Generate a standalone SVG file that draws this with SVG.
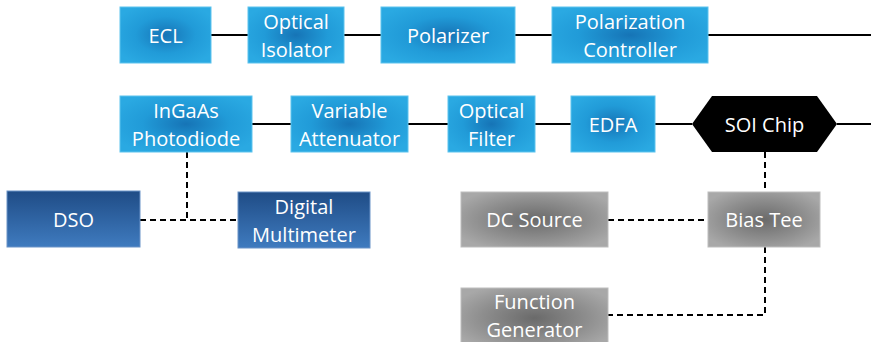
<svg xmlns="http://www.w3.org/2000/svg" width="871" height="342" viewBox="0 0 871 342">
<defs>
<radialGradient id="gBlue" cx="50%" cy="50%" r="60%">
<stop offset="0" stop-color="#1674b6"/>
<stop offset="0.55" stop-color="#219bd8"/>
<stop offset="1" stop-color="#2aa9e2"/>
</radialGradient>
<linearGradient id="gDark" x1="0" y1="0" x2="0" y2="1">
<stop offset="0" stop-color="#1f4c86"/>
<stop offset="1" stop-color="#3f7bbf"/>
</linearGradient>
<radialGradient id="gGray" cx="50%" cy="50%" r="60%">
<stop offset="0" stop-color="#6a6a6a"/>
<stop offset="0.6" stop-color="#8e8e8e"/>
<stop offset="1" stop-color="#a8a8a8"/>
</radialGradient>
<style>
.blue{fill:url(#gBlue);stroke:#5cc3ee;stroke-width:1}
.dark{fill:url(#gDark);stroke:#6b93c7;stroke-width:1}
.gray{fill:url(#gGray);stroke:#bdbdbd;stroke-width:1}
.chip{fill:#000}
text{font-family:"Open Sans","Noto Sans",sans-serif;font-size:20px;fill:#fff;text-anchor:middle}
.solid{stroke:#000;stroke-width:2;fill:none}
.dash{stroke:#000;stroke-width:2;fill:none;stroke-dasharray:6 4}
</style>
</defs>
<rect width="871" height="342" fill="#fff"/>
<g id="connectors">
<line class="solid" x1="211" y1="35" x2="248" y2="35"/>
<line class="solid" x1="344" y1="35" x2="381" y2="35"/>
<line class="solid" x1="515" y1="35" x2="552" y2="35"/>
<line class="solid" x1="708" y1="35" x2="871" y2="35"/>
<line class="solid" x1="252" y1="124" x2="291" y2="124"/>
<line class="solid" x1="408" y1="124" x2="448" y2="124"/>
<line class="solid" x1="535" y1="124" x2="571" y2="124"/>
<line class="solid" x1="655" y1="124" x2="692" y2="124"/>
<line class="solid" x1="837" y1="124" x2="871" y2="124"/>
<polyline class="dash" points="187,152 187,220"/>
<line class="dash" x1="140" y1="220" x2="238" y2="220"/>
<line class="dash" x1="765" y1="152" x2="765" y2="192"/>
<line class="dash" x1="608" y1="220" x2="708" y2="220"/>
<polyline class="dash" points="765,247 765,315 608,315"/>
</g>
<g id="ecl"><rect class="blue" x="120" y="7" width="91" height="56"/><text x="165.5" y="43">ECL</text></g>
<g id="isolator"><rect class="blue" x="248" y="7" width="96" height="56"/><text x="296" y="29">Optical</text><text x="296" y="57">Isolator</text></g>
<g id="polarizer"><rect class="blue" x="381" y="7" width="134" height="56"/><text x="448" y="43">Polarizer</text></g>
<g id="pc"><rect class="blue" x="552" y="7" width="156" height="56"/><text x="630" y="29">Polarization</text><text x="630" y="57">Controller</text></g>
<g id="ingaas"><rect class="blue" x="120" y="96" width="132" height="56"/><text x="186" y="118">InGaAs</text><text x="186" y="146">Photodiode</text></g>
<g id="attenuator"><rect class="blue" x="291" y="96" width="117" height="56"/><text x="349.5" y="118">Variable</text><text x="349.5" y="146">Attenuator</text></g>
<g id="filter"><rect class="blue" x="448" y="96" width="87" height="56"/><text x="491.5" y="118">Optical</text><text x="491.5" y="146">Filter</text></g>
<g id="edfa"><rect class="blue" x="571" y="96" width="84" height="56"/><text x="613" y="132">EDFA</text></g>
<g id="soi"><polygon class="chip" points="692,124 712,96 817,96 837,124 817,152 712,152"/><text x="764.5" y="132">SOI Chip</text></g>
<g id="dso"><rect class="dark" x="7" y="191" width="133" height="56"/><text x="73.5" y="227">DSO</text></g>
<g id="dmm"><rect class="dark" x="238" y="192" width="132" height="56"/><text x="304" y="214">Digital</text><text x="304" y="242">Multimeter</text></g>
<g id="dc"><rect class="gray" x="461" y="192" width="147" height="55"/><text x="534.5" y="227">DC Source</text></g>
<g id="biastee"><rect class="gray" x="708" y="192" width="112" height="55"/><text x="764" y="227">Bias Tee</text></g>
<g id="fg"><rect class="gray" x="461" y="288" width="147" height="60"/><text x="534.5" y="309">Function</text><text x="534.5" y="337">Generator</text></g>
</svg>
